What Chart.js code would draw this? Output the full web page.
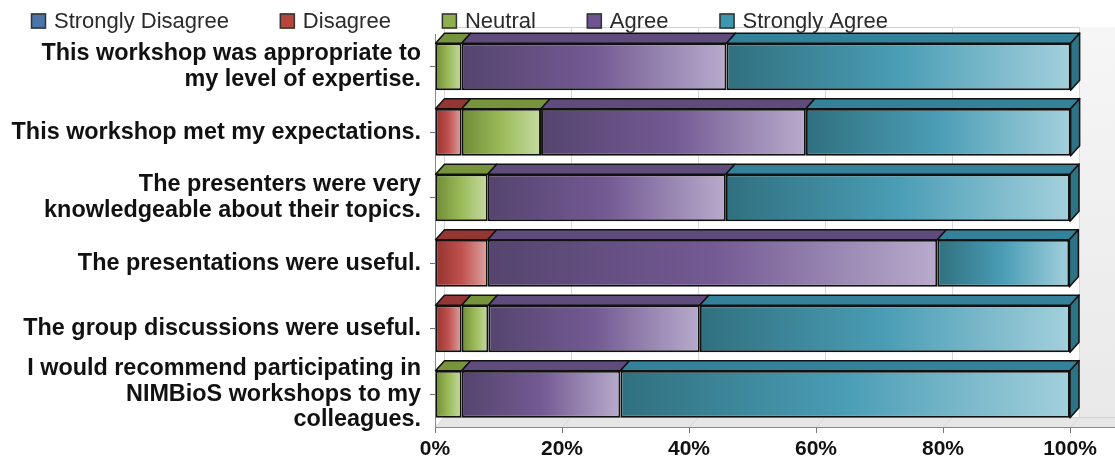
<!DOCTYPE html>
<html lang="en">
<head>
  <meta charset="UTF-8">
  <title>Workshop Evaluation</title>
  <script src="https://cdn.jsdelivr.net/npm/chart.js"></script>
  <style>
    body { margin: 0; background: #fff; }
    #wrap { width: 1115px; height: 460px; }
  </style>
</head>
<body>
  <div id="wrap"><canvas id="chart" width="1115" height="460"></canvas></div>

  <script>
    // survey statements (multi-line like the original)
    const categories = [
      ['This workshop was appropriate to', 'my level of expertise.'],
      'This workshop met my expectations.',
      ['The presenters were very', 'knowledgeable about their topics.'],
      'The presentations were useful.',
      'The group discussions were useful.',
      ['I would recommend participating in', 'NIMBioS workshops to my', 'colleagues.']
    ];
    const seriesNames = ['Strongly Disagree', 'Disagree', 'Neutral', 'Agree', 'Strongly Agree'];

    // percent of respondents
    const stronglyDisagree = [0, 0, 0, 0, 0, 0];
    const disagree = [0, 4.2, 0, 8.3, 4.2, 0];
    const neutral = [4.2, 12.5, 8.3, 0, 4.2, 4.2];
    const agree = [41.7, 41.7, 37.5, 70.8, 33.3, 25.0];
    const stronglyAgree = [54.2, 41.7, 54.2, 20.8, 58.3, 70.8];

    const xTicks = [0, 20, 40, 60, 80, 100];

    // colours: [dark, mid, light] for the face gradient, top face, legend swatch
    const FACE = [
      ['#2f5380', '#4f81bd', '#a7c0de'],
      ['#93332f', '#c0504d', '#dca4a2'],
      ['#6f8b36', '#9bbb59', '#c7daa2'],
      ['#55446e', '#735a93', '#b8abcc'],
      ['#30707f', '#4a9db5', '#a3d0dc']
    ];
    const TOP = ['#3a6396', '#943734', '#77933c', '#604b7d', '#34829a'];
    const SIDE = ['#2f5380', '#7e2b28', '#617a2f', '#4e3d67', '#2d7385'];
    const SWATCH = ['#4a74aa', '#b5473f', '#8fae50', '#6f558f', '#3d97ae'];

    const DX = 9, DY = 10;   // 3d depth
    const TEXT = '#111';
    const FONT = '"Liberation Sans", Arial, sans-serif';

    function faceGradient(c) {
      const chart = c.chart;
      const k = c.datasetIndex, i = c.dataIndex;
      const fallback = FACE[k][1];
      const x = chart.scales.x;
      if (i === undefined || !chart.chartArea || !x) return fallback;
      let start = 0;
      for (let j = 0; j < k; j++) start += chart.data.datasets[j].data[i];
      const v = chart.data.datasets[k].data[i];
      const x0 = x.getPixelForValue(start), x1 = x.getPixelForValue(start + v);
      if (x1 - x0 < 1) return fallback;
      const g = chart.ctx.createLinearGradient(x0, 0, x1, 0);
      g.addColorStop(0, FACE[k][0]);
      g.addColorStop(0.5, FACE[k][1]);
      g.addColorStop(1, FACE[k][2]);
      return g;
    }

    // back wall, right wall, floor and offset gridlines
    const walls3d = {
      id: 'walls3d',
      beforeDraw(chart) {
        const { ctx, chartArea: a, scales: { x } } = chart;
        const W = chart.width;
        const backTop = a.top - DY + 3;
        const backBot = a.bottom - DY;
        const rw = a.right + DX;
        ctx.save();
        const g = ctx.createLinearGradient(0, backTop, 0, backBot);
        g.addColorStop(0, '#f6f6f6');
        g.addColorStop(1, '#e9e9e9');
        ctx.fillStyle = g;
        ctx.fillRect(rw, backTop, W - rw, backBot - backTop);

        ctx.fillStyle = '#e6e6e6';
        ctx.beginPath();
        ctx.moveTo(a.left, a.bottom);
        ctx.lineTo(a.left + DX, backBot);
        ctx.lineTo(W, backBot);
        ctx.lineTo(W, a.bottom);
        ctx.closePath();
        ctx.fill();

        ctx.lineWidth = 1;
        ctx.strokeStyle = '#d2d2d2';
        ctx.beginPath();
        ctx.moveTo(a.left + DX, backTop + 0.5);
        ctx.lineTo(rw, backTop + 0.5);
        ctx.moveTo(a.left + DX, backBot + 0.5);
        ctx.lineTo(W, backBot + 0.5);
        ctx.stroke();

        ctx.strokeStyle = '#d8d8d8';
        ctx.beginPath();
        x.ticks.forEach(t => {
          const px = Math.round(x.getPixelForValue(t.value)) + 0.5;
          ctx.moveTo(px + DX, backTop);
          ctx.lineTo(px + DX, backBot);
          ctx.moveTo(px, a.bottom);
          ctx.lineTo(px + DX, backBot);
        });
        ctx.stroke();

        ctx.strokeStyle = '#8a8a8a';
        ctx.beginPath();
        ctx.moveTo(a.left, Math.round(a.bottom) + 0.5);
        ctx.lineTo(W, Math.round(a.bottom) + 0.5);
        ctx.stroke();
        ctx.restore();
      }
    };

    // top faces of each segment + end cap of each row
    const bars3d = {
      id: 'bars3d',
      afterDatasetsDraw(chart) {
        const ctx = chart.ctx;
        const ends = [];
        ctx.save();
        ctx.lineWidth = 1.5;
        ctx.strokeStyle = '#111';
        ctx.lineJoin = 'round';
        chart.data.datasets.forEach((ds, k) => {
          chart.getDatasetMeta(k).data.forEach((bar, i) => {
            const p = bar.getProps(['x', 'y', 'base', 'height'], true);
            const x0 = Math.min(p.x, p.base), x1 = Math.max(p.x, p.base);
            if (x1 - x0 < 0.5) return;
            const yt = p.y - p.height / 2;
            ctx.beginPath();
            ctx.moveTo(x0, yt);
            ctx.lineTo(x1, yt);
            ctx.lineTo(x1 + DX, yt - DY);
            ctx.lineTo(x0 + DX, yt - DY);
            ctx.closePath();
            ctx.fillStyle = TOP[k];
            ctx.fill();
            ctx.stroke();
            ends[i] = { x1, yt, yb: yt + p.height, k };
          });
        });
        ends.forEach(e => {
          if (!e) return;
          ctx.beginPath();
          ctx.moveTo(e.x1, e.yt);
          ctx.lineTo(e.x1 + DX, e.yt - DY);
          ctx.lineTo(e.x1 + DX, e.yb - DY);
          ctx.lineTo(e.x1, e.yb);
          ctx.closePath();
          ctx.fillStyle = SIDE[e.k];
          ctx.fill();
          ctx.stroke();
        });
        ctx.restore();
      }
    };

    // single-row legend across the top
    const legendRow = {
      id: 'legendRow',
      afterDraw(chart) {
        const ctx = chart.ctx;
        const box = 15, y = 21;
        let x = 31;
        ctx.save();
        ctx.font = '22px ' + FONT;
        ctx.textBaseline = 'middle';
        chart.data.datasets.forEach((ds, k) => {
          ctx.fillStyle = SWATCH[k];
          ctx.fillRect(x, y - box / 2, box, box);
          ctx.strokeStyle = '#333';
          ctx.lineWidth = 1.5;
          ctx.strokeRect(x + 0.5, y - box / 2 + 0.5, box - 1, box - 1);
          ctx.fillStyle = '#2a2a2a';
          ctx.fillText(ds.label, x + box + 8, y + 1);
          x += box + 8 + ctx.measureText(ds.label).width + 51;
        });
        ctx.restore();
      }
    };

    const values = [stronglyDisagree, disagree, neutral, agree, stronglyAgree];

    new Chart(document.getElementById('chart'), {
      type: 'bar',
      data: {
        labels: categories,
        datasets: seriesNames.map((name, k) => ({
          label: name,
          data: values[k],
          backgroundColor: faceGradient,
          borderColor: '#111',
          borderWidth: 2,
          borderSkipped: false,
          barPercentage: 0.72,
          categoryPercentage: 1
        }))
      },
      options: {
        indexAxis: 'y',
        responsive: false,
        animation: false,
        layout: { padding: { top: 34, right: 45, left: 0, bottom: 0 } },
        plugins: {
          legend: { display: false },
          tooltip: { enabled: false }
        },
        scales: {
          x: {
            stacked: true,
            min: 0,
            max: 100,
            afterBuildTicks: s => { s.ticks = xTicks.map(v => ({ value: v })); },
            afterFit: s => { s.height = 33; },
            grid: { drawOnChartArea: false, drawTicks: true, tickLength: 6, color: '#777' },
            border: { display: true, color: '#8a8a8a' },
            ticks: {
              autoSkip: false,
              maxRotation: 0,
              padding: 4,
              color: TEXT,
              font: { family: FONT, size: 21, weight: 'bold' },
              callback: v => v + '%'
            }
          },
          y: {
            stacked: true,
            afterFit: s => {
              s.width = 435;
              s.paddingTop = 0;
              s.paddingBottom = 0;
            },
            grid: { drawOnChartArea: false, drawTicks: true, tickLength: 5, offset: false, color: '#777' },
            border: { display: true, color: '#8a8a8a' },
            ticks: {
              autoSkip: false,
              padding: 9,
              color: TEXT,
              font: { family: FONT, size: 23.4, weight: 'bold', lineHeight: 1.1 }
            }
          }
        }
      },
      plugins: [walls3d, bars3d, legendRow]
    });
  </script>
</body>
</html>
